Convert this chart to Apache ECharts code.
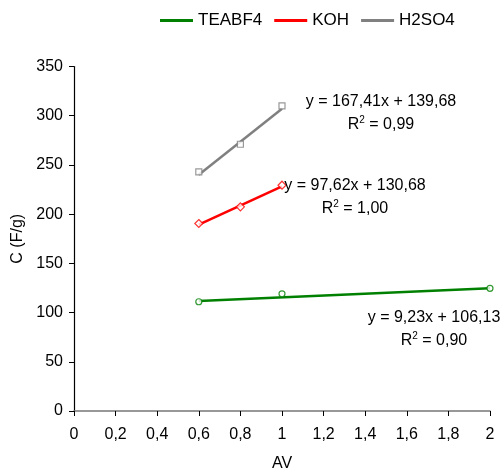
<!DOCTYPE html>
<html>
<head>
<meta charset="utf-8">
<script src="https://cdn.jsdelivr.net/npm/echarts@6/dist/echarts.min.js"></script>
<style>
  html, body { margin: 0; padding: 0; background: #fff; }
  #chart { width: 503px; height: 470px; }
</style>
</head>
<body>
<div id="chart"></div>
<script>
// measured points (AV, C in F/g)
var teabf4Points = [[0.6, 111], [1, 119], [2, 124.6]]
var kohPoints = [[0.6, 190.5], [0.8, 207.4], [1, 229.4]]
var h2so4Points = [[0.6, 243], [0.8, 271], [1, 310]]

// linear trend endpoints
var teabf4Trend = [[0.6, 111.7], [2, 124.6]]
var kohTrend = [[0.6, 189.3], [1, 228.3]]
var h2so4Trend = [[0.6, 240.1], [1, 307.1]]

var seriesNames = ['TEABF4', 'KOH', 'H2SO4']
var colors = ['#008000', '#ff0000', '#808080']
var symbols = ['circle', 'diamond', 'rect']

var equations = ['y = 9,23x + 106,13', 'y = 97,62x + 130,68', 'y = 167,41x + 139,68']
var r2Values = ['0,90', '1,00', '0,99']

var xTicks = [0, 2, 0.2]   // min, max, step
var yTicks = [0, 350, 50]

var points = [teabf4Points, kohPoints, h2so4Points]
var trends = [teabf4Trend, kohTrend, h2so4Trend]

var chart = echarts.init(document.getElementById('chart'))

var series = []
seriesNames.forEach(function(name, i) {
    series.push({
        name: name,
        type: 'line',
        data: trends[i],
        showSymbol: false,
        lineStyle: { color: colors[i], width: 2.5 },
        itemStyle: { color: colors[i] },
        z: 2
    })
    series.push({
        name: name + '-pts',
        type: 'scatter',
        data: points[i],
        symbol: symbols[i],
        symbolSize: i === 1 ? 8 : 6,
        itemStyle: { color: '#fff', borderColor: colors[i], borderWidth: 1.2 },
        z: 3
    })
})

// equation labels, centre positions from the reference
var font = '"Liberation Sans", Arial, sans-serif'
var labelPos = [[434, 318, 340], [355, 186, 208], [381, 102, 124]]
var graphics = []
labelPos.forEach(function(p, i) {
    graphics.push({
        type: 'text', x: p[0], y: p[1], z: 10,
        style: { text: equations[i], fontSize: 16, fontFamily: font, fill: '#000', align: 'center', verticalAlign: 'middle' }
    })
    graphics.push({
        type: 'text', x: p[0], y: p[2], z: 10,
        style: {
            text: '{r|R}{s|2}{r| = ' + r2Values[i] + '}',
            align: 'center', verticalAlign: 'middle',
            rich: {
                r: { fontSize: 16, fontFamily: font, fill: '#000', lineHeight: 18, verticalAlign: 'bottom' },
                s: { fontSize: 10, fontFamily: font, fill: '#000', lineHeight: 18, verticalAlign: 'top' }
            }
        }
    })
})

var options = {
    animation: false,
    textStyle: { fontFamily: font },
    grid: { left: 74, right: 13, top: 66.5, bottom: 59, outerBoundsMode: 'none' },
    legend: {
        data: seriesNames.map(function(n) { return { name: n, icon: 'rect' } }),
        left: 160,
        top: 12,
        padding: 0,
        itemWidth: 33,
        itemHeight: 3,
        itemGap: 12,
        textStyle: { fontSize: 17, color: '#000' }
    },
    xAxis: {
        type: 'value',
        min: xTicks[0], max: xTicks[1], interval: xTicks[2],
        name: 'AV',
        nameLocation: 'middle',
        nameGap: 45,
        nameTextStyle: { fontSize: 16, color: '#000' },
        axisLine: { lineStyle: { color: '#777', width: 1.5 } },
        axisTick: { show: true, length: 5, lineStyle: { color: '#000' } },
        axisLabel: {
            fontSize: 16, color: '#000', margin: 16,
            formatter: function(v) { return String(+v.toFixed(1)).replace('.', ',') }
        },
        splitLine: { show: false }
    },
    yAxis: {
        type: 'value',
        min: yTicks[0], max: yTicks[1], interval: yTicks[2],
        name: 'C (F/g)',
        nameLocation: 'middle',
        nameGap: 48,
        nameRotate: 90,
        nameTextStyle: { fontSize: 16, color: '#000' },
        axisLine: { show: true, lineStyle: { color: '#000', width: 1.2 } },
        axisTick: { show: true, length: 5, lineStyle: { color: '#000' } },
        axisLabel: { fontSize: 16, color: '#000', margin: 11 },
        splitLine: { show: false }
    },
    graphic: graphics,
    series: series
}

chart.setOption(options)
</script>
</body>
</html>
